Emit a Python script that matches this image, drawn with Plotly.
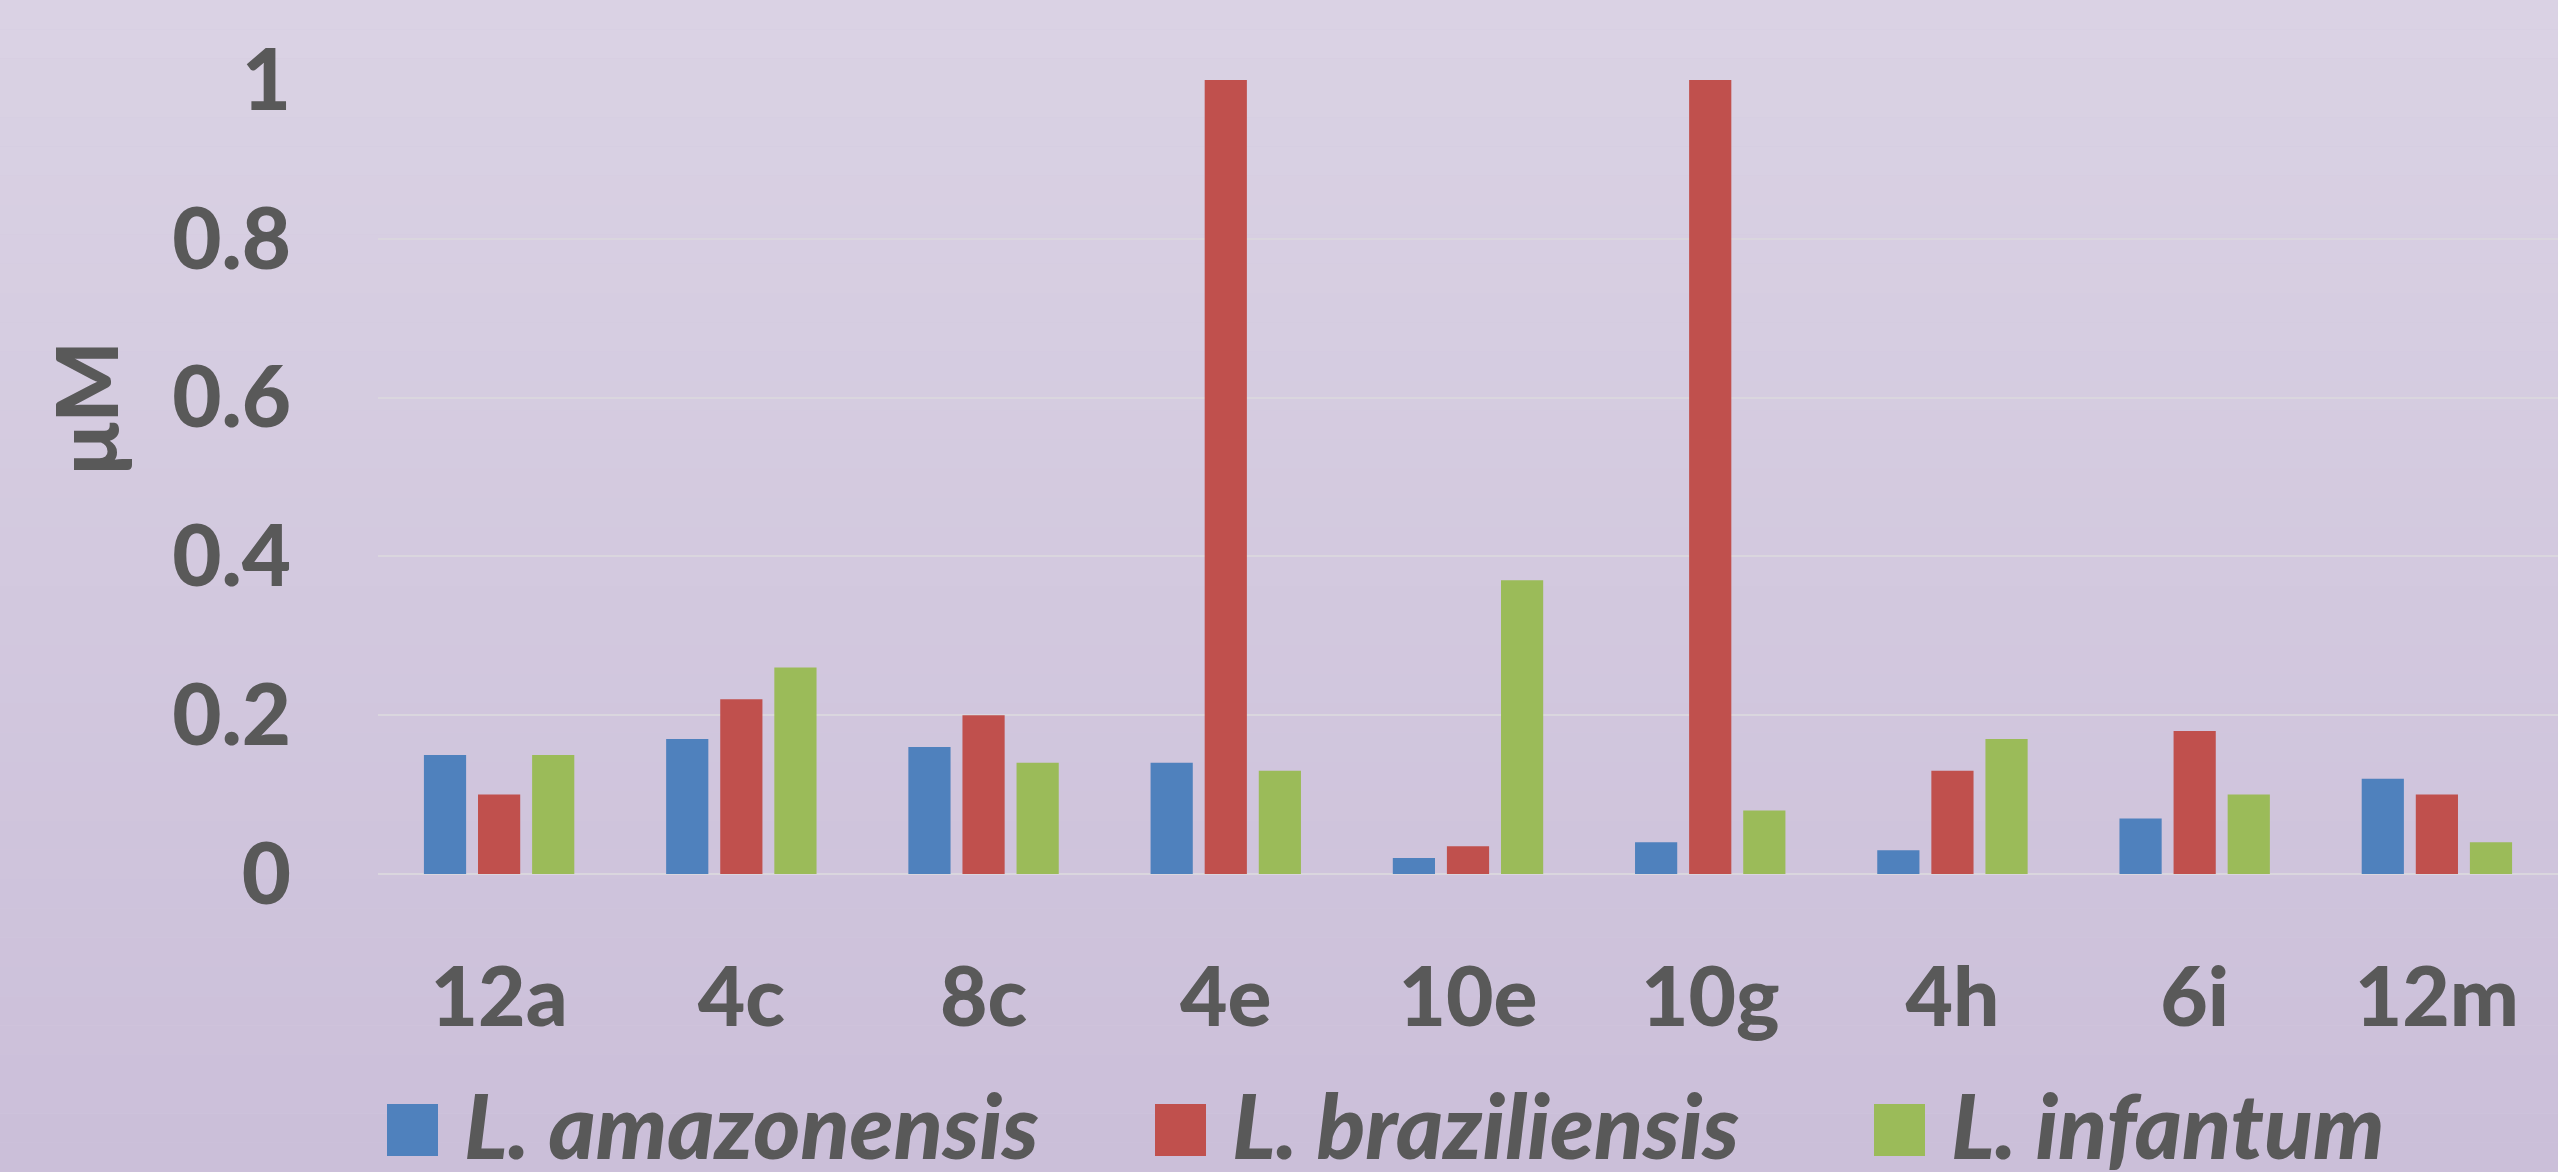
import plotly.graph_objects as go

categories = ["12a", "4c", "8c", "4e", "10e", "10g", "4h", "6i", "12m"]
amazonensis = [0.15, 0.17, 0.16, 0.14, 0.02, 0.04, 0.03, 0.07, 0.12]
braziliensis = [0.10, 0.22, 0.20, 1.00, 0.035, 1.00, 0.13, 0.18, 0.10]
infantum = [0.15, 0.26, 0.14, 0.13, 0.37, 0.08, 0.17, 0.10, 0.04]
series_names = ["L. amazonensis", "L. braziliensis", "L. infantum"]
y_ticks = [0, 0.2, 0.4, 0.6, 0.8, 1]
y_tick_labels = ["0", "0.2", "0.4", "0.6", "0.8", "1"]
y_title = "μM"

colors = ["#4F81BD", "#C0504D", "#9BBB59"]
W, H = 2558, 1172
L, R, T, B = 378, 0, 80, 298
PW, PH = W - L - R, H - T - B
TXT = "#595959"
FAM = "Lato Heavy, Lato Black, Lato"

def px_x(x):
    return (x - L) / PW

def px_y(y):
    return (H - B - y) / PH

fig = go.Figure()
for name, vals, col in zip(series_names, [amazonensis, braziliensis, infantum], colors):
    fig.add_trace(go.Bar(x=categories, y=vals, name=name, marker_color=col,
                         marker_line_width=0, showlegend=False))

# background gradient
shapes = []
n = 40
top = (218, 210, 228)
bot = (203, 191, 217)
for i in range(n):
    t = i / (n - 1)
    c = tuple(round(top[k] + (bot[k] - top[k]) * t) for k in range(3))
    shapes.append(dict(type="rect", xref="paper", yref="paper", layer="below",
                       x0=px_x(0), x1=px_x(W),
                       y0=px_y(H * (i + 1) / n), y1=px_y(H * i / n),
                       fillcolor="rgb(%d,%d,%d)" % c, line_width=0))

# manual legend
legend_sq_x = [387, 1155, 1874]
legend_txt_x = [462, 1230, 1949]
annotations = []
for i, name in enumerate(series_names):
    shapes.append(dict(type="rect", xref="paper", yref="paper",
                       x0=px_x(legend_sq_x[i]), x1=px_x(legend_sq_x[i] + 51),
                       y0=px_y(1156), y1=px_y(1104),
                       fillcolor=colors[i], line_width=0))
    annotations.append(dict(text=name, xref="paper", yref="paper",
                            x=px_x(legend_txt_x[i]), y=px_y(1124),
                            xanchor="left", yanchor="middle", showarrow=False,
                            font=dict(family=FAM, size=90, color=TXT,
                                      weight="bold", style="italic")))

annotations.append(dict(text=y_title, xref="paper", yref="paper",
                        x=px_x(84), y=px_y(408), textangle=-90,
                        xanchor="center", yanchor="middle", showarrow=False,
                        font=dict(family=FAM, size=86, color=TXT, weight="bold")))

fig.update_layout(
    width=W, height=H,
    margin=dict(l=L, r=R, t=T, b=B, pad=0),
    paper_bgcolor="rgb(210,200,222)",
    plot_bgcolor="rgba(0,0,0,0)",
    barmode="group", bargap=0.33, bargroupgap=0.22,
    shapes=shapes, annotations=annotations,
    xaxis=dict(showgrid=False, showline=False, zeroline=False,
               tickfont=dict(family=FAM, size=82, color=TXT, weight="bold"),
               ticks="", ticklabelstandoff=69),
    yaxis=dict(range=[0, 1], tickvals=y_ticks, ticktext=y_tick_labels,
               showgrid=True, gridcolor="#DAD6DE", gridwidth=2,
               zeroline=True, zerolinecolor="#DAD6DE", zerolinewidth=2,
               showline=False, ticks="",
               tickfont=dict(family=FAM, size=85, color=TXT, weight="bold"),
               ticklabelstandoff=86),
    showlegend=False,
)

fig.write_html("out.html", config={"displayModeBar": False},
               post_script="document.body.style.margin='0';document.body.style.overflow='hidden';")
